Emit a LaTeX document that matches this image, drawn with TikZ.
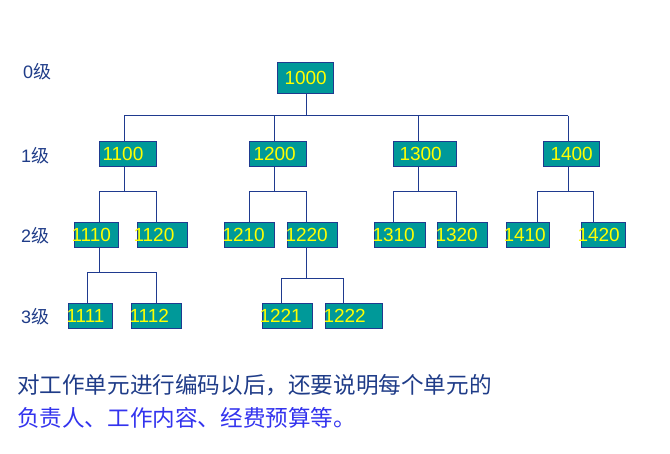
\documentclass[tikz,border=0pt]{standalone}
\usepackage{fontspec}
\setmainfont{Liberation Sans}
\newfontfamily\cjk{Noto Sans CJK SC}
\definecolor{navy}{HTML}{1F3A8F}
\definecolor{boxfill}{HTML}{009999}
\definecolor{txtA}{HTML}{1F3C88}
\definecolor{txtB}{HTML}{3333EE}
\definecolor{yel}{HTML}{FFFF00}
\tikzset{
  wbox/.style={draw=navy, line width=1pt, fill=boxfill, text=yel, inner sep=0pt,
    anchor=north west, minimum height=25pt, font=\fontsize{19}{19}\selectfont},
  lvl/.style={anchor=west, inner sep=0pt, text=txtA, font=\fontsize{18}{18}\selectfont},
  conn/.style={draw=navy, line width=1pt},
}
% \bx{name}{x}{y}{width}{dx}{text}
\newcommand{\bx}[6]{\node[wbox] (#1) at (#2,#3) {\makebox[#4pt][l]{\hspace*{#5pt}#6}};}
% \brch{id}{parent}{px}{y}{child1}{x1}{child2}{x2}
\newcommand{\brch}[8]{%
  \coordinate (#1j) at (#3,#4);
  \coordinate (#1l) at (#6,#4);
  \coordinate (#1r) at (#8,#4);
  \draw[conn] (#1j |- #2.south) -- (#1j);
  \draw[conn] (#1l |- #5.north) -- (#1l) -- (#1r) -- (#1r |- #7.north);}
\begin{document}
\begin{tikzpicture}[x=1pt,y=-1pt]
\useasboundingbox (0,0) rectangle (670,453);
% level labels
\node[lvl] (l0) at (23,72) {0{\cjk 级}};
\node[lvl] (l1) at (21,156) {1{\cjk 级}};
\node[lvl] (l2) at (21,236) {2{\cjk 级}};
\node[lvl] (l3) at (21,317) {3{\cjk 级}};
% level 0
\node[wbox, minimum height=31pt] (n1000) at (277,62) {\makebox[56pt][l]{\hspace*{7pt}1000}};
% level 1
\bx{n1100}{99}{141}{57}{3}{1100}
\bx{n1200}{249}{141}{57}{4}{1200}
\bx{n1300}{393}{141}{63}{6}{1300}
\bx{n1400}{543}{141}{56}{7}{1400}
% level 2
\bx{n1110}{74}{222}{44}{-3}{1110}
\bx{n1120}{137}{222}{50}{-4}{1120}
\bx{n1210}{224}{222}{50}{-2}{1210}
\bx{n1220}{287}{222}{50}{-2}{1220}
\bx{n1310}{374}{222}{51}{-2}{1310}
\bx{n1320}{437}{222}{50}{-2}{1320}
\bx{n1410}{506}{222}{43}{-3}{1410}
\bx{n1420}{581}{222}{44}{-4}{1420}
% level 3
\bx{n1111}{68}{303}{44}{-2}{1111}
\bx{n1112}{131}{303}{50}{-2}{1112}
\bx{n1221}{262}{303}{50}{-3}{1221}
\bx{n1222}{325}{303}{57}{-2}{1222}
% level 0 -> 1
\coordinate (b0) at (306,115.5);
\coordinate (b1100) at (124,115.5);
\coordinate (b1200) at (274,115.5);
\coordinate (b1300) at (418,115.5);
\coordinate (b1400) at (568,115.5);
\draw[conn] (b0 |- n1000.south) -- (b0);
\draw[conn] (b1100) -- (b1400);
\draw[conn] (b1100) -- (b1100 |- n1100.north);
\draw[conn] (b1200) -- (b1200 |- n1200.north);
\draw[conn] (b1300) -- (b1300 |- n1300.north);
\draw[conn] (b1400) -- (b1400 |- n1400.north);
% level 1 -> 2
\brch{p1}{n1100}{124.3}{191.5}{n1110}{99.3}{n1120}{156.3}
\brch{p2}{n1200}{274.3}{191.5}{n1210}{249.3}{n1220}{306.3}
\brch{p3}{n1300}{418.3}{191.5}{n1310}{393.3}{n1320}{456.3}
\brch{p4}{n1400}{568.3}{191.5}{n1410}{537.3}{n1420}{593.3}
% level 2 -> 3
\brch{q1}{n1110}{99.3}{272.3}{n1111}{87.3}{n1112}{156.3}
\brch{q2}{n1220}{306.3}{278.3}{n1221}{281.3}{n1222}{343.3}
% bottom text
\node[anchor=west, inner sep=0pt, text=txtA, font=\cjk\fontsize{22.6}{22.6}\selectfont] (t1) at (17,385) {对工作单元进行编码以后，还要说明每个单元的};
\node[anchor=west, inner sep=0pt, text=txtB, font=\cjk\fontsize{22.6}{22.6}\selectfont] (t2) at (17,418) {负责人、工作内容、经费预算等。};
\end{tikzpicture}
\end{document}
